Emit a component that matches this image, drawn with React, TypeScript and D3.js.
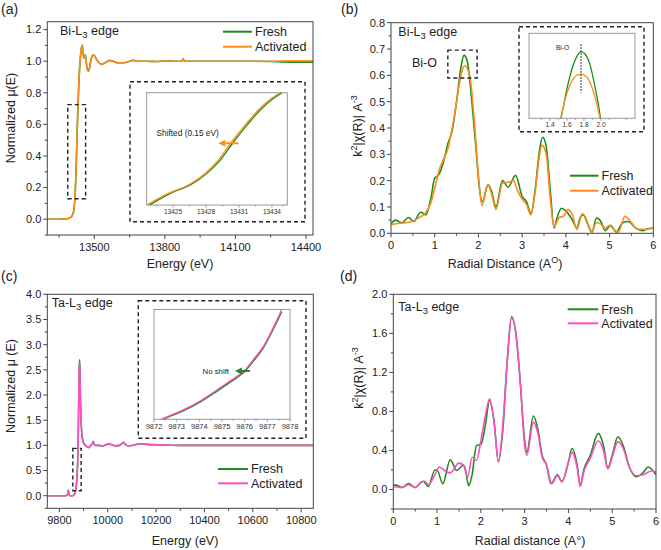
import React from "react";
import * as d3 from "d3";

const FONT = "'Liberation Sans', Arial, Helvetica, sans-serif";
const GREEN = "#1e8c1e";
const ORANGE = "#ff8c1a";
const PINK = "#ff4fc4";
const AX = "#444";
const INAX = "#999";

// ---------- Panel (a): Bi-L3 XANES ----------
const aEnergy = [13300, 13350, 13380, 13395, 13405, 13412, 13417, 13421, 13425, 13429, 13433, 13437, 13441, 13445, 13448, 13451, 13454, 13457, 13461, 13465, 13470, 13475, 13480, 13486, 13492, 13497, 13503, 13510, 13520, 13530, 13540, 13552, 13565, 13580, 13600, 13620, 13640, 13665, 13690, 13720, 13760, 13800, 13840, 13872, 13878, 13884, 13950, 14050, 14150, 14250, 14330, 14430];
const aActivated = [0.0, 0.0, 0.003, 0.008, 0.02, 0.05, 0.12, 0.25, 0.45, 0.65, 0.82, 0.95, 1.03, 1.08, 1.1, 1.08, 1.03, 1.02, 1.04, 1.0, 0.95, 0.935, 0.96, 1.01, 1.035, 1.04, 1.03, 1.01, 0.99, 0.98, 0.985, 0.995, 1.005, 1.0, 0.99, 0.99, 0.995, 1.005, 1.0, 1.0, 0.998, 1.002, 1.0, 1.0, 1.015, 1.0, 1.0, 1.0, 1.0, 1.0, 1.003, 1.003];
const aFresh = [0.0, 0.0, 0.003, 0.008, 0.02, 0.05, 0.12, 0.25, 0.45, 0.65, 0.82, 0.95, 1.03, 1.08, 1.1, 1.08, 1.03, 1.02, 1.04, 1.0, 0.95, 0.935, 0.96, 1.01, 1.035, 1.04, 1.03, 1.01, 0.99, 0.98, 0.985, 0.995, 1.005, 1.0, 0.99, 0.99, 0.995, 1.005, 1.0, 1.0, 0.998, 1.002, 1.0, 1.0, 1.015, 1.0, 1.0, 1.0, 1.0, 0.998, 0.994, 0.994];
const aXTicks = [13500, 13800, 14100, 14400];
const aXMinor = [13350, 13650, 13950, 14250];
const aYTicks = [0, 0.2, 0.4, 0.6, 0.8, 1.0, 1.2];
const aYMinor = [-0.1, 0.1, 0.3, 0.5, 0.7, 0.9, 1.1];
const aZoomE = [13387, 13463];
const aZoomY = [0.129, 0.725];
// inset (a)
const aInActE = [13422.6, 13424.57, 13426.39, 13427.91, 13429.12, 13430.34, 13431.55, 13432.76, 13433.98, 13434.74];
const aInAct = [0.2, 0.2625, 0.307, 0.369, 0.44, 0.538, 0.627, 0.708, 0.77, 0.8];
const aInFreshE = [13422.6, 13424.75, 13426.57, 13428.09, 13429.3, 13430.52, 13431.73, 13432.94, 13434.16, 13434.92];
const aInFresh = [0.19, 0.2625, 0.307, 0.369, 0.44, 0.538, 0.627, 0.708, 0.77, 0.8];
const aInTicks = [13425, 13428, 13431, 13434];
const aInMinor = [13423.5, 13426.5, 13429.5, 13432.5, 13435];
const aArrowE = [13430.94, 13429.12];
const aArrowV = 0.53;

// ---------- Panel (b): Bi-L3 FT-EXAFS ----------
const bFreshR = [0, 0.1, 0.25, 0.4, 0.52, 0.68, 0.8, 0.92, 1.0, 1.08, 1.2, 1.3, 1.4, 1.5, 1.6, 1.67, 1.75, 1.85, 1.95, 2.03, 2.09, 2.22, 2.3, 2.4, 2.55, 2.68, 2.85, 3.0, 3.1, 3.2, 3.3, 3.4, 3.47, 3.55, 3.65, 3.73, 3.8, 3.9, 4.0, 4.15, 4.25, 4.33, 4.4, 4.5, 4.6, 4.7, 4.8, 4.9, 5.02, 5.15, 5.3, 5.42, 5.6, 5.75, 5.9, 6.0];
const bFresh = [0.035, 0.05, 0.04, 0.06, 0.045, 0.08, 0.07, 0.14, 0.21, 0.22, 0.27, 0.34, 0.39, 0.5, 0.63, 0.677, 0.65, 0.5, 0.31, 0.16, 0.12, 0.185, 0.16, 0.1, 0.2, 0.175, 0.22, 0.14, 0.12, 0.075, 0.17, 0.32, 0.365, 0.33, 0.15, 0.02, 0.06, 0.095, 0.085, 0.05, 0.02, 0.06, 0.07, 0.035, 0.005, 0.058, 0.045, 0.01, 0.03, 0.005, 0.04, 0.045, 0.02, 0.01, 0.018, 0.02];
const bActR = [0, 0.2, 0.4, 0.6, 0.8, 0.9, 1.0, 1.1, 1.2, 1.3, 1.4, 1.5, 1.6, 1.68, 1.8, 1.9, 2.0, 2.08, 2.22, 2.3, 2.4, 2.55, 2.7, 2.8, 2.9, 3.0, 3.1, 3.2, 3.3, 3.4, 3.45, 3.55, 3.65, 3.73, 3.85, 3.95, 4.05, 4.15, 4.25, 4.38, 4.45, 4.58, 4.7, 4.8, 4.9, 5.0, 5.1, 5.2, 5.35, 5.5, 5.65, 5.8, 6.0];
const bAct = [0.033, 0.038, 0.042, 0.055, 0.08, 0.11, 0.17, 0.24, 0.28, 0.32, 0.4, 0.5, 0.6, 0.637, 0.6, 0.44, 0.22, 0.105, 0.185, 0.15, 0.09, 0.19, 0.195, 0.2, 0.16, 0.13, 0.11, 0.07, 0.16, 0.3, 0.335, 0.3, 0.12, 0.025, 0.06, 0.065, 0.09, 0.07, 0.015, 0.075, 0.06, 0.005, 0.04, 0.035, 0.02, 0.03, 0.015, 0.003, 0.065, 0.04, 0.015, 0.015, 0.02];
const rTicks = [0, 1, 2, 3, 4, 5, 6];
const rMinor = [0.5, 1.5, 2.5, 3.5, 4.5, 5.5];
const bYTicks = [0, 0.1, 0.2, 0.3, 0.4, 0.5, 0.6, 0.7, 0.8];
const bYMinor = [0.05, 0.15, 0.25, 0.35, 0.45, 0.55, 0.65, 0.75];
const bZoomR = [1.3, 1.97];
const bZoomY = [0.59, 0.696];
// inset (b)
const bInFreshR = [1.52, 1.538, 1.596, 1.655, 1.714, 1.765, 1.812, 1.871, 1.929, 1.988, 2.0];
const bInFresh = [0.555, 0.566, 0.609, 0.644, 0.667, 0.676, 0.672, 0.653, 0.615, 0.566, 0.55];
const bInActR = [1.526, 1.576, 1.635, 1.706, 1.765, 1.832, 1.891, 1.949, 1.988];
const bInAct = [0.56, 0.592, 0.618, 0.634, 0.637, 0.632, 0.615, 0.586, 0.56];
const bInTicks = [1.4, 1.6, 1.8, 2.0];
const bInMinor = [1.3, 1.5, 1.7, 1.9, 2.1, 2.3];
const bInMarkR = 1.765;
const bInMarkY = [0.6046, 0.689];

// ---------- Panel (c): Ta-L3 XANES ----------
const cEnergy = [9750, 9800, 9828, 9834, 9837, 9840, 9845, 9855, 9862, 9866, 9870, 9873, 9876, 9878, 9880, 9882, 9883.5, 9885, 9887, 9889, 9892, 9896, 9901, 9908, 9915, 9922, 9930, 9936, 9940, 9944, 9950, 9962, 9978, 9992, 10005, 10018, 10032, 10048, 10060, 10066, 10074, 10090, 10110, 10130, 10150, 10180, 10220, 10300, 10400, 10500, 10600, 10700, 10800, 10850];
const cActivated = [0.0, 0.0, 0.0, 0.03, 0.1, 0.02, 0.0, 0.0, 0.03, 0.08, 0.2, 0.4, 0.75, 1.2, 1.9, 2.5, 2.65, 2.45, 1.9, 1.55, 1.28, 1.12, 1.04, 1.0, 0.97, 0.96, 1.0, 1.03, 1.07, 1.02, 1.0, 1.0, 0.99, 1.01, 1.03, 1.01, 0.99, 1.0, 1.04, 1.06, 1.01, 0.99, 1.01, 1.03, 1.025, 1.015, 1.01, 1.0, 1.0, 1.0, 1.0, 1.0, 1.0, 1.0];
const cFresh = [0.0, 0.0, 0.0, 0.03, 0.11, 0.02, 0.0, 0.0, 0.03, 0.07, 0.19, 0.39, 0.74, 1.2, 1.92, 2.55, 2.7, 2.5, 1.95, 1.57, 1.28, 1.12, 1.04, 1.0, 0.97, 0.96, 1.0, 1.03, 1.08, 1.02, 1.0, 1.0, 0.99, 1.01, 1.03, 1.01, 0.99, 1.0, 1.04, 1.06, 1.01, 0.99, 1.01, 1.03, 1.025, 1.015, 1.01, 1.0, 1.0, 1.0, 1.0, 1.0, 1.0, 1.0];
const cXTicks = [9800, 10000, 10200, 10400, 10600, 10800];
const cXMinor = [9900, 10100, 10300, 10500, 10700];
const cYTicks = [0, 0.5, 1.0, 1.5, 2.0, 2.5, 3.0, 3.5, 4.0];
const cYMinor = [-0.25, 0.25, 0.75, 1.25, 1.75, 2.25, 2.75, 3.25, 3.75];
const cZoomE = [9855.6, 9890];
const cZoomY = [0.1, 0.94];
// inset (c)
const cInE = [9872.1, 9872.41, 9873.29, 9874.03, 9874.77, 9875.35, 9876.01, 9876.41, 9876.82, 9877.23, 9877.63];
const cInAct = [0.285, 0.305, 0.351, 0.4, 0.46, 0.509, 0.569, 0.63, 0.697, 0.793, 0.897];
const cInFresh = [0.28, 0.3, 0.346, 0.394, 0.453, 0.502, 0.562, 0.622, 0.689, 0.784, 0.887];
const cInTicks = [9872, 9873, 9874, 9875, 9876, 9877, 9878];
const cInMinor = [9872.5, 9873.5, 9874.5, 9875.5, 9876.5, 9877.5];
const cArrowE = [9876.23, 9875.57];
const cArrowV = 0.564;

// ---------- Panel (d): Ta-L3 FT-EXAFS ----------
const dFreshR = [0, 0.1, 0.2, 0.35, 0.5, 0.68, 0.8, 0.95, 1.0, 1.13, 1.3, 1.45, 1.52, 1.6, 1.65, 1.72, 1.8, 1.9, 2.0, 2.1, 2.2, 2.3, 2.4, 2.5, 2.6, 2.7, 2.8, 2.9, 3.0, 3.05, 3.2, 3.3, 3.4, 3.5, 3.6, 3.75, 3.85, 4.0, 4.08, 4.2, 4.27, 4.35, 4.5, 4.68, 4.8, 4.9, 5.0, 5.13, 5.25, 5.4, 5.55, 5.7, 5.82, 6.0];
const dFresh = [0.05, 0.04, 0.02, 0.06, 0.02, 0.085, 0.03, 0.2, 0.2, 0.058, 0.305, 0.195, 0.22, 0.25, 0.2, 0.04, 0.15, 0.45, 0.46, 0.65, 0.914, 0.7, 0.29, 0.6, 1.3, 1.77, 1.6, 1.1, 0.5, 0.38, 0.753, 0.62, 0.35, 0.25, 0.06, 0.15, 0.08, 0.28, 0.42, 0.25, 0.04, 0.2, 0.35, 0.575, 0.45, 0.22, 0.35, 0.54, 0.45, 0.22, 0.13, 0.17, 0.23, 0.15];
const dActR = [0, 0.2, 0.35, 0.5, 0.65, 0.72, 0.8, 0.95, 1.05, 1.15, 1.3, 1.5, 1.6, 1.7, 1.8, 1.9, 2.0, 2.1, 2.2, 2.3, 2.4, 2.5, 2.6, 2.7, 2.8, 2.9, 3.0, 3.05, 3.2, 3.3, 3.4, 3.5, 3.62, 3.75, 3.85, 4.0, 4.08, 4.2, 4.27, 4.35, 4.5, 4.68, 4.8, 4.9, 5.0, 5.13, 5.25, 5.4, 5.55, 5.7, 5.9, 6.0];
const dAct = [0.03, 0.02, 0.05, 0.02, 0.08, 0.085, 0.05, 0.15, 0.23, 0.2, 0.17, 0.27, 0.25, 0.13, 0.33, 0.3, 0.5, 0.75, 0.93, 0.7, 0.28, 0.65, 1.3, 1.76, 1.6, 1.1, 0.45, 0.35, 0.69, 0.58, 0.33, 0.25, 0.06, 0.14, 0.08, 0.28, 0.38, 0.22, 0.03, 0.18, 0.32, 0.5, 0.4, 0.21, 0.33, 0.49, 0.42, 0.22, 0.14, 0.15, 0.19, 0.18];
const dYTicks = [0, 0.4, 0.8, 1.2, 1.6, 2.0];
const dYMinor = [-0.2, 0.2, 0.6, 1.0, 1.4, 1.8];

const seriesNames = ["Fresh", "Activated"];

type Box = { x0: number; y0: number; x1: number; y1: number };
type Lin = d3.ScaleLinear<number, number>;

function mk(box: Box, xd: number[], yd: number[]) {
  return {
    x: d3.scaleLinear().domain(xd).range([box.x0, box.x1]),
    y: d3.scaleLinear().domain(yd).range([box.y1, box.y0]),
  };
}

function path(x: Lin, y: Lin, xs: number[], ys: number[]) {
  const gen = d3
    .line<number>()
    .x((i) => x(xs[i]))
    .y((i) => y(ys[i]))
    .curve(d3.curveMonotoneX);
  return gen(xs.map((_, i) => i)) || "";
}

function Axes(props: {
  box: Box; x: Lin; y: Lin; xt: number[]; xm: number[]; yt: number[]; ym: number[];
  xf: (v: number) => string; yf: (v: number) => string;
}) {
  const { box, x, y, xt, xm, yt, ym, xf, yf } = props;
  const inX = (v: number) => x(v) >= box.x0 - 0.5 && x(v) <= box.x1 + 0.5;
  const inY = (v: number) => y(v) >= box.y0 - 0.5 && y(v) <= box.y1 + 0.5;
  return (
    <g fontFamily={FONT} fill="#222">
      {xt.filter(inX).map((t) => (
        <g key={"xt" + t}>
          <line x1={x(t)} x2={x(t)} y1={box.y1} y2={box.y1 + 4} stroke={AX} />
          <text x={x(t)} y={box.y1 + 16} textAnchor="middle" fontSize={11}>{xf(t)}</text>
        </g>
      ))}
      {xm.filter(inX).map((t) => (
        <line key={"xm" + t} x1={x(t)} x2={x(t)} y1={box.y1} y2={box.y1 + 2.5} stroke={AX} />
      ))}
      {yt.filter(inY).map((t) => (
        <g key={"yt" + t}>
          <line x1={box.x0} x2={box.x0 - 4} y1={y(t)} y2={y(t)} stroke={AX} />
          <text x={box.x0 - 6} y={y(t)} dy="0.35em" textAnchor="end" fontSize={11}>{yf(t)}</text>
        </g>
      ))}
      {ym.filter(inY).map((t) => (
        <line key={"ym" + t} x1={box.x0} x2={box.x0 - 2.5} y1={y(t)} y2={y(t)} stroke={AX} />
      ))}
      <rect x={box.x0} y={box.y0} width={box.x1 - box.x0} height={box.y1 - box.y0} fill="none" stroke={AX} strokeWidth={1} />
    </g>
  );
}

function InsetAxes(props: { box: Box; x: Lin; xt: number[]; xm: number[]; xf: (v: number) => string; fs: number; off: number }) {
  const { box, x, xt, xm, xf, fs, off } = props;
  return (
    <g fontFamily={FONT} fill="#333">
      <rect x={box.x0} y={box.y0} width={box.x1 - box.x0} height={box.y1 - box.y0} fill="#fff" stroke={INAX} strokeWidth={1} />
      {xt.map((t) => (
        <g key={"it" + t}>
          <line x1={x(t)} x2={x(t)} y1={box.y1} y2={box.y1 + 2.5} stroke={INAX} />
          <text x={x(t)} y={box.y1 + off} textAnchor="middle" fontSize={fs}>{xf(t)}</text>
        </g>
      ))}
      {xm.filter((t) => x(t) >= box.x0 && x(t) <= box.x1).map((t) => (
        <line key={"im" + t} x1={x(t)} x2={x(t)} y1={box.y1} y2={box.y1 + 1.5} stroke={INAX} />
      ))}
    </g>
  );
}

function Legend(props: { x0: number; x1: number; ys: number[]; colors: string[] }) {
  const { x0, x1, ys, colors } = props;
  return (
    <g fontFamily={FONT} fontSize={12.5} fill="#222">
      {seriesNames.map((n, i) => (
        <g key={n}>
          <line x1={x0} x2={x1} y1={ys[i]} y2={ys[i]} stroke={colors[i]} strokeWidth={2} />
          <text x={x1 + 3} y={ys[i]} dy="0.35em">{n}</text>
        </g>
      ))}
    </g>
  );
}

function Edge(props: { x: number; y: number; el: string }) {
  return (
    <text x={props.x} y={props.y} fontFamily={FONT} fontSize={12.5} fill="#222">
      {props.el}-L
      <tspan fontSize={9.5} dy={3}>3</tspan>
      <tspan dy={-3}> edge</tspan>
    </text>
  );
}

function DashBox(props: { x0: number; y0: number; x1: number; y1: number }) {
  const { x0, y0, x1, y1 } = props;
  return (
    <rect x={Math.min(x0, x1)} y={Math.min(y0, y1)} width={Math.abs(x1 - x0)} height={Math.abs(y1 - y0)}
      fill="none" stroke="#222" strokeWidth={1.4} strokeDasharray="4,3" />
  );
}

function Arrow(props: { xa: number; xb: number; y: number; color: string }) {
  const { xa, xb, y, color } = props; // head at xb
  const dir = xb < xa ? 1 : -1;
  const hx = xb + dir * 7;
  return (
    <g>
      <line x1={xa} x2={hx} y1={y} y2={y} stroke={color} strokeWidth={2} />
      <polygon points={`${xb},${y} ${hx},${y - 3.5} ${hx},${y + 3.5}`} fill={color} />
    </g>
  );
}

export default function App() {
  const f1 = d3.format(".1f");
  const f0 = d3.format("d");

  // panel a
  const aBox: Box = { x0: 47.3, y0: 21.7, x1: 313, y1: 235 };
  const A = mk(aBox, [13300, 14430], [-0.1, 1.25]);
  const aOut: Box = { x0: 130, y0: 81.7, x1: 305, y1: 221.7 };
  const aIn: Box = { x0: 146.7, y0: 92.7, x1: 287.3, y1: 205 };
  const AI = mk(aIn, [13422.6, 13435.4], [0.2, 0.8]);

  // panel b
  const bBox: Box = { x0: 391, y0: 22.7, x1: 653.3, y1: 233.3 };
  const B = mk(bBox, [0, 6], [0, 0.8]);
  const bOut: Box = { x0: 519, y0: 26.7, x1: 644, y1: 131.7 };
  const bIn: Box = { x0: 529, y0: 33.3, x1: 635, y1: 118.3 };
  const BI = mk(bIn, [1.153, 2.4], [0.56, 0.708]);

  // panel c
  const cBox: Box = { x0: 47.3, y0: 294.3, x1: 313.3, y1: 508.3 };
  const C = mk(cBox, [9750, 10850], [-0.25, 4.0]);
  const cOut: Box = { x0: 138.3, y0: 300.7, x1: 306, y1: 438.3 };
  const cIn: Box = { x0: 154, y0: 309.5, x1: 290, y1: 419.3 };
  const CI = mk(cIn, [9872, 9878], [0.3, 0.9]);

  // panel d
  const dBox: Box = { x0: 393.3, y0: 294.3, x1: 656, y1: 509 };
  const D = mk(dBox, [0, 6], [-0.2, 2.0]);

  const clip = (id: string, b: Box) => (
    <clipPath id={id}>
      <rect x={b.x0} y={b.y0} width={b.x1 - b.x0} height={b.y1 - b.y0} />
    </clipPath>
  );

  const title = { fontFamily: FONT, fontSize: 12.5, fill: "#222" } as const;

  return (
    <svg width={661} height={550} viewBox="0 0 661 550" style={{ position: "absolute", left: 0, top: 0, background: "#fff" }}>
      <defs>
        {clip("clA", aBox)}
        {clip("clAi", aIn)}
        {clip("clB", bBox)}
        {clip("clBi", bIn)}
        {clip("clC", cBox)}
        {clip("clCi", cIn)}
        {clip("clD", dBox)}
      </defs>
      <rect x={0} y={0} width={661} height={550} fill="#fff" />

      {/* panel labels */}
      <g fontFamily={FONT} fontSize={14} fill="#222">
        <text x={1} y={14}>(a)</text>
        <text x={341} y={14}>(b)</text>
        <text x={1} y={281}>(c)</text>
        <text x={340} y={281}>(d)</text>
      </g>

      {/* ===== Panel A ===== */}
      <g clipPath="url(#clA)" fill="none">
        <path d={path(A.x, A.y, aEnergy, aFresh)} stroke={GREEN} strokeWidth={1.6} />
        <path d={path(A.x, A.y, aEnergy, aActivated)} stroke={ORANGE} strokeWidth={1.6} />
      </g>
      <Axes box={aBox} x={A.x} y={A.y} xt={aXTicks} xm={aXMinor} yt={aYTicks} ym={aYMinor} xf={f0} yf={f1} />
      <DashBox x0={A.x(aZoomE[0])} x1={A.x(aZoomE[1])} y0={A.y(aZoomY[1])} y1={A.y(aZoomY[0])} />
      <DashBox {...aOut} />
      <InsetAxes box={aIn} x={AI.x} xt={aInTicks} xm={aInMinor} xf={f0} fs={6.5} off={9} />
      <g clipPath="url(#clAi)" fill="none">
        <path d={path(AI.x, AI.y, aInFreshE, aInFresh)} stroke={GREEN} strokeWidth={1.3} />
        <path d={path(AI.x, AI.y, aInActE, aInAct)} stroke={ORANGE} strokeWidth={1.3} />
      </g>
      <text x={156.5} y={136} fontFamily={FONT} fontSize={8.3} fill="#222">Shifted (0.15 eV)</text>
      <Arrow xa={AI.x(aArrowE[0])} xb={AI.x(aArrowE[1])} y={AI.y(aArrowV)} color={ORANGE} />
      <Edge x={60} y={35} el="Bi" />
      <Legend x0={223} x1={252} ys={[31.7, 46.7]} colors={[GREEN, ORANGE]} />
      <text x={180} y={268} textAnchor="middle" {...title}>Energy (eV)</text>
      <text transform="translate(14.5,118) rotate(-90)" textAnchor="middle" {...title}>Normalized μ(E)</text>

      {/* ===== Panel B ===== */}
      <g clipPath="url(#clB)" fill="none">
        <path d={path(B.x, B.y, bFreshR, bFresh)} stroke={GREEN} strokeWidth={1.6} />
        <path d={path(B.x, B.y, bActR, bAct)} stroke={ORANGE} strokeWidth={1.6} />
      </g>
      <Axes box={bBox} x={B.x} y={B.y} xt={rTicks} xm={rMinor} yt={bYTicks} ym={bYMinor} xf={f0} yf={f1} />
      <DashBox x0={B.x(bZoomR[0])} x1={B.x(bZoomR[1])} y0={B.y(bZoomY[1])} y1={B.y(bZoomY[0])} />
      <DashBox {...bOut} />
      <InsetAxes box={bIn} x={BI.x} xt={bInTicks} xm={bInMinor} xf={f1} fs={6.5} off={8.5} />
      <g clipPath="url(#clBi)" fill="none">
        <path d={path(BI.x, BI.y, bInFreshR, bInFresh)} stroke={GREEN} strokeWidth={1.3} />
        <path d={path(BI.x, BI.y, bInActR, bInAct)} stroke={ORANGE} strokeWidth={1.3} />
      </g>
      <line x1={BI.x(bInMarkR)} x2={BI.x(bInMarkR)} y1={BI.y(bInMarkY[1])} y2={BI.y(bInMarkY[0])} stroke="#222" strokeWidth={1.2} strokeDasharray="1.5,1.5" />
      <text x={556} y={49.5} fontFamily={FONT} fontSize={6.5} fill="#222">Bi-O</text>
      <Edge x={398.3} y={36} el="Bi" />
      <text x={412} y={67} {...title}>Bi-O</text>
      <Legend x0={570} x1={598.5} ys={[175.7, 190.7]} colors={[GREEN, ORANGE]} />
      <text x={505} y={268} textAnchor="middle" {...title}>
        Radial Distance (A<tspan fontSize={9} dy={-5}>O</tspan><tspan dy={5}>)</tspan>
      </text>
      <text transform="translate(362,126) rotate(-90)" textAnchor="middle" {...title}>
        k<tspan fontSize={9} dy={-5}>2</tspan><tspan dy={5}>|χ(R)| A</tspan><tspan fontSize={9} dy={-5}>-3</tspan>
      </text>

      {/* ===== Panel C ===== */}
      <g clipPath="url(#clC)" fill="none">
        <path d={path(C.x, C.y, cEnergy, cFresh)} stroke={GREEN} strokeWidth={1.6} />
        <path d={path(C.x, C.y, cEnergy, cActivated)} stroke={PINK} strokeWidth={1.6} />
      </g>
      <Axes box={cBox} x={C.x} y={C.y} xt={cXTicks} xm={cXMinor} yt={cYTicks} ym={cYMinor} xf={f0} yf={f1} />
      <DashBox x0={C.x(cZoomE[0])} x1={C.x(cZoomE[1])} y0={C.y(cZoomY[1])} y1={C.y(cZoomY[0])} />
      <DashBox {...cOut} />
      <InsetAxes box={cIn} x={CI.x} xt={cInTicks} xm={cInMinor} xf={f0} fs={7.5} off={9.5} />
      <g clipPath="url(#clCi)" fill="none">
        <path d={path(CI.x, CI.y, cInE, cInFresh)} stroke={GREEN} strokeWidth={1.4} />
        <path d={path(CI.x, CI.y, cInE, cInAct)} stroke={PINK} strokeWidth={1.4} />
      </g>
      <text x={229} y={374} textAnchor="end" fontFamily={FONT} fontSize={7.8} fill="#222">No shift</text>
      <Arrow xa={CI.x(cArrowE[0])} xb={CI.x(cArrowE[1])} y={CI.y(cArrowV)} color={GREEN} />
      <Edge x={51.7} y={307} el="Ta" />
      <Legend x0={218} x1={248} ys={[469, 483.3]} colors={[GREEN, PINK]} />
      <text x={185} y={545} textAnchor="middle" {...title}>Energy (eV)</text>
      <text transform="translate(14.5,386) rotate(-90)" textAnchor="middle" {...title}>Normalized μ (E)</text>

      {/* ===== Panel D ===== */}
      <g clipPath="url(#clD)" fill="none">
        <path d={path(D.x, D.y, dFreshR, dFresh)} stroke={GREEN} strokeWidth={1.6} />
        <path d={path(D.x, D.y, dActR, dAct)} stroke={PINK} strokeWidth={1.6} />
      </g>
      <Axes box={dBox} x={D.x} y={D.y} xt={rTicks} xm={rMinor} yt={dYTicks} ym={dYMinor} xf={f0} yf={f1} />
      <Edge x={398.3} y={311} el="Ta" />
      <Legend x0={567.7} x1={598.3} ys={[309.3, 323.3]} colors={[GREEN, PINK]} />
      <text x={530} y={545} textAnchor="middle" {...title}>Radial distance (A°)</text>
      <text transform="translate(363,378) rotate(-90)" textAnchor="middle" {...title}>
        k<tspan fontSize={9} dy={-5}>2</tspan><tspan dy={5}>|χ(R)| A</tspan><tspan fontSize={9} dy={-5}>-3</tspan>
      </text>
    </svg>
  );
}
